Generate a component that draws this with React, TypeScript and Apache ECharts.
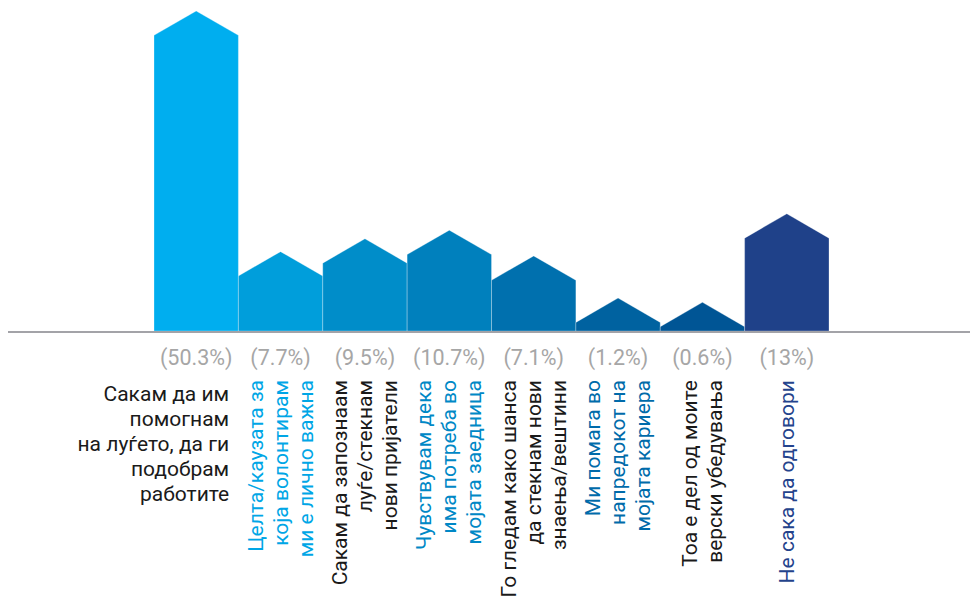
import React, { useEffect, useRef } from "react";
import * as echarts from "echarts";

const categories = [
  "Сакам да им\nпомогнам\nна луѓето, да ги\nподобрам\nработите",
  "Целта/каузата за\nкоја волонтирам\nми е лично важна",
  "Сакам да запознаам\nлуѓе/стекнам\nнови пријатели",
  "Чувствувам дека\nима потреба во\nмојата заедница",
  "Го гледам како шанса\nда стекнам нови\nзнаења/вештини",
  "Ми помага во\nнапредокот на\nмојата кариера",
  "Тоа е дел од моите\nверски убедувања",
  "Не сака да одговори",
];
const values = [50.3, 7.7, 9.5, 10.7, 7.1, 1.2, 0.6, 13];
const barColors = ["#00AEEF", "#009EDB", "#008DC9", "#0080BD", "#0070AE", "#0062A0", "#005595", "#1F4189"];
const labelColors = ["#1a1a1a", "#00A6E6", "#1a1a1a", "#0088C6", "#1a1a1a", "#006BAA", "#1a1a1a", "#24438C"];

const FONT = "Roboto, 'Noto Sans', sans-serif";

export default function App() {
  const ref = useRef<HTMLDivElement>(null);
  useEffect(() => {
    document.body.style.margin = "0";
    const chart = echarts.init(ref.current!, undefined, { renderer: "svg" });
    const option: any = {
      animation: false,
      grid: { left: 154, right: 141, top: 11, bottom: 268 },
      xAxis: {
        type: "category",
        data: categories,
        axisLine: { show: false },
        axisTick: { show: false },
        axisLabel: { show: false },
        splitLine: { show: false },
      },
      yAxis: {
        type: "value",
        min: 0,
        max: 44.8,
        show: false,
        splitLine: { show: false },
      },
      graphic: [
        {
          type: "line",
          z: 100,
          shape: { x1: 8, y1: 332, x2: 970, y2: 332 },
          style: { stroke: "#a3a3a8", lineWidth: 2 },
        },
      ],
      series: [
        {
          type: "custom",
          clip: false,
          data: values.map((v, i) => [i, v]),
          renderItem: (params: any, api: any) => {
            const i = api.value(0);
            const v = api.value(1);
            const top = api.coord([i, v]);
            const base = api.coord([i, 0]);
            const w = api.size([1, 0])[0];
            const half = w / 2;
            const roof = half * Math.tan(Math.PI / 6);
            const gridTop = params.coordSys.y;
            const shoulder = Math.max(top[1], gridTop + roof);
            const cx = base[0];
            const by = base[1];
            const children: any[] = [
              {
                type: "polygon",
                shape: {
                  points: [
                    [cx - half, by],
                    [cx - half, shoulder],
                    [cx, shoulder - roof],
                    [cx + half, shoulder],
                    [cx + half, by],
                  ],
                },
                style: { fill: barColors[i], stroke: "rgba(255,255,255,0.35)", lineWidth: 0.8 },
              },
              {
                type: "text",
                x: cx,
                y: by + 26,
                style: {
                  text: "(" + values[i] + "%)",
                  fill: "#a6a6a6",
                  font: "21.5px " + FONT,
                  align: "center",
                  verticalAlign: "middle",
                },
              },
            ];
            if (i === 0) {
              children.push({
                type: "text",
                x: cx + 33,
                y: by + 50,
                style: {
                  text: categories[i],
                  fill: labelColors[i],
                  font: "21px " + FONT,
                  align: "right",
                  verticalAlign: "top",
                  lineHeight: 25,
                },
              });
            } else {
              children.push({
                type: "text",
                x: cx,
                y: by + 49,
                rotation: Math.PI / 2,
                style: {
                  text: categories[i],
                  fill: labelColors[i],
                  font: "21px " + FONT,
                  align: "right",
                  verticalAlign: "middle",
                  lineHeight: 25,
                },
              });
            }
            return { type: "group", children };
          },
        },
      ],
    };
    chart.setOption(option);
    return () => chart.dispose();
  }, []);
  return <div ref={ref} style={{ width: 970, height: 599 }} />;
}
